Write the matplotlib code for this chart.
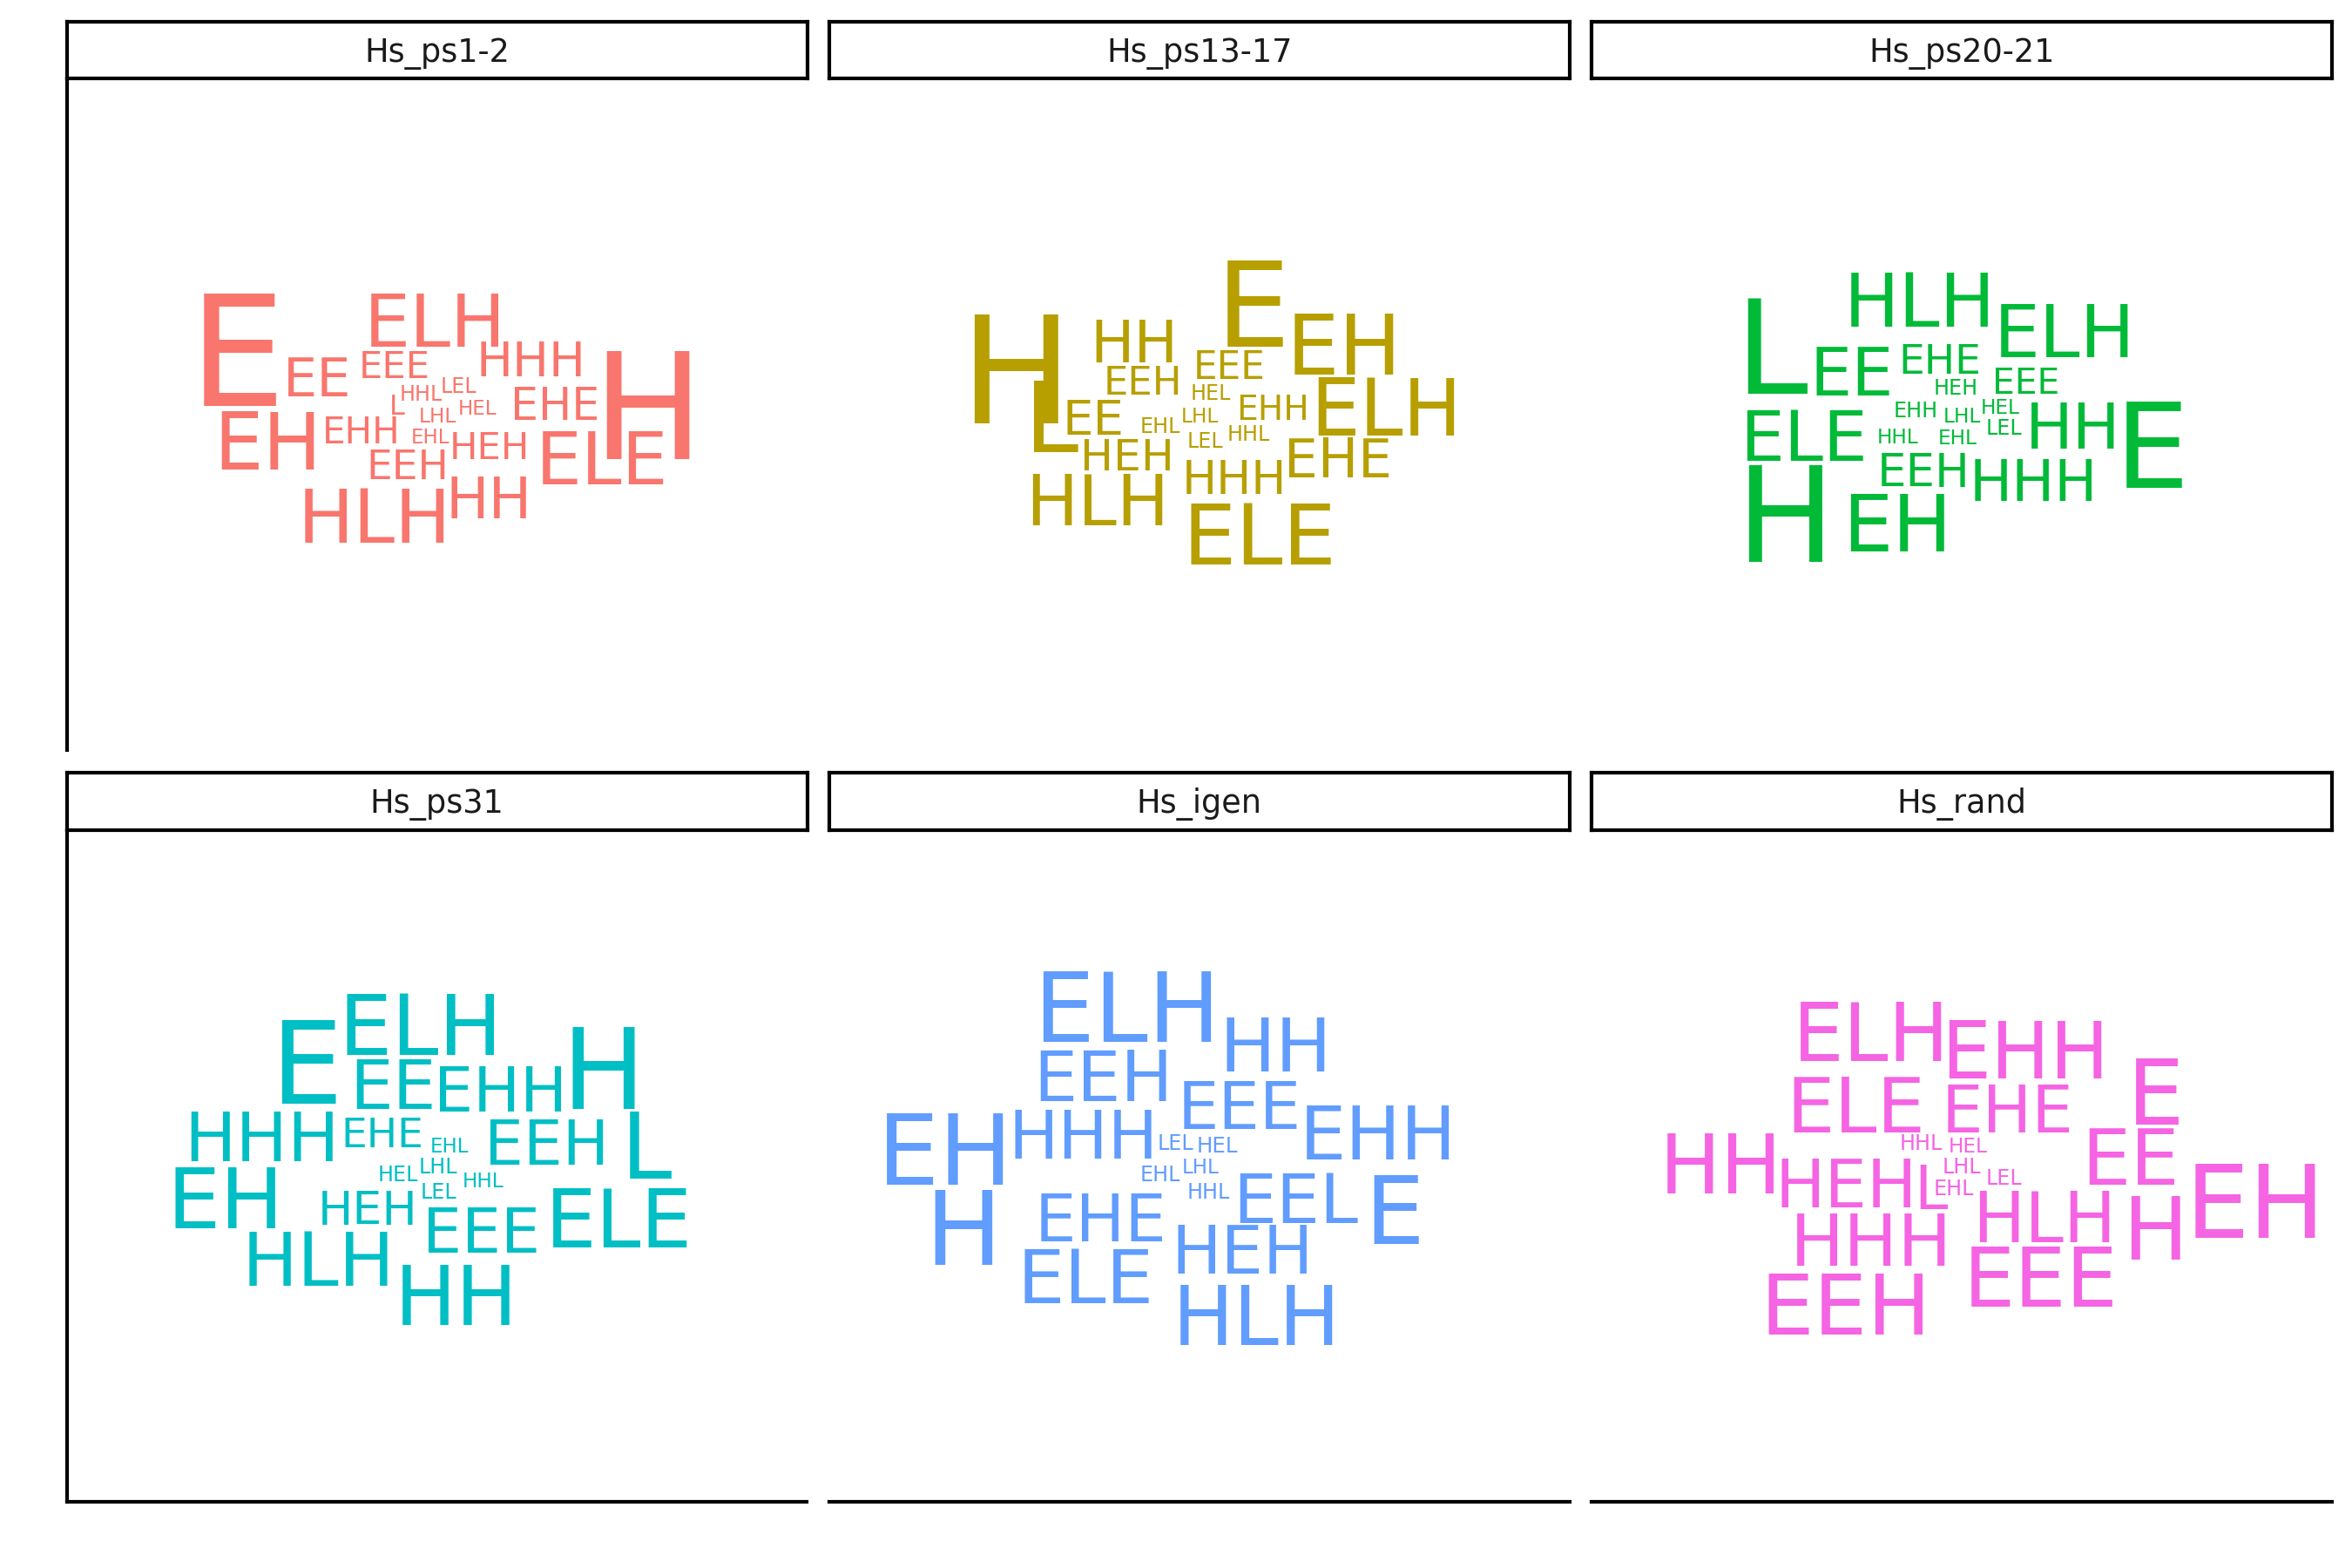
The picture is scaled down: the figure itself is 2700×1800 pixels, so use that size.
import matplotlib
matplotlib.use("Agg")
import matplotlib.pyplot as plt

plt.rcParams['font.family'] = ['DejaVu Sans']

panels = ["Hs_ps1-2", "Hs_ps13-17", "Hs_ps20-21", "Hs_ps31", "Hs_igen", "Hs_rand"]
colours = ["#F8766D", "#B79F00", "#00BA38", "#00BFC4", "#619CFF", "#F564E3"]

# words and their sizes (pt) per panel, plus the cloud layout (x, baseline y)
words_1 = ["E", "ELH", "EE", "EEE", "HHH", "H", "HHL", "LEL", "L", "HEL",
           "LHL", "EHE", "EH", "EHH", "EHL", "HEH", "ELE", "EEH", "HH", "HLH"]
size_1 = [42.2, 20.2, 14.9, 10.4, 13.4, 40.9, 5.7, 5.7, 7.7, 5.5,
          5.6, 12.2, 21.5, 10.1, 5.5, 10.4, 20.1, 11.3, 15.8, 20.6]
x_1 = [-229.7, -2.5, -137, -49, 108.3, 242.1, -18.3, 25.4, -45.5, 47,
       1.3, 135.5, -193.8, -86.6, -7, 60.5, 189.9, -34, 59.3, -71.3]
y_1 = [9.3, 77, 20, 41, 43.7, -51.7, 15.3, 24.3, -0.7, -0.7,
       -10, -6.7, -63.3, -34, -33.3, -51.3, -80.7, -75, -119.7, -147.3]

words_2 = ["H", "L", "HH", "E", "EH", "EEH", "EEE", "HEL", "EE", "EHL",
           "LHL", "EHH", "ELH", "LEL", "HHL", "HEH", "EHE", "HHH", "HLH", "ELE"]
size_2 = [41.4, 26.8, 16.1, 32.4, 23.0, 10.8, 10.5, 5.7, 13.5, 5.7,
          5.6, 9.4, 21.5, 5.7, 5.7, 12.1, 14.8, 12.8, 19.2, 23.3]
x_2 = [-210.3, -169.8, -74.9, 61.5, 166.2, -65.1, 34.4, 13.7, -121.3, -44.8,
       1.2, 84.7, 214.3, 6.9, 56.2, -82.8, 159.1, 40, -116.8, 69.7]
y_2 = [-10.7, -43.3, 59.3, 77.7, 45, 22.7, 40, 16, -24, -21.3,
       -10, -6.3, -24.7, -39, -30.7, -65, -72.3, -91.3, -127.3, -172.3]

words_3 = ["L", "HLH", "ELH", "EE", "EHE", "HEH", "EEE", "ELE", "EHH", "LHL",
           "HEL", "LEL", "HHL", "EHL", "HH", "E", "EEH", "HHH", "H", "EH"]
size_3 = [36.1, 20.3, 20.1, 18.3, 11.3, 5.7, 9.8, 19.4, 5.7, 5.6,
          5.6, 5.7, 5.6, 5.6, 17.5, 32.4, 12.7, 15.7, 36.3, 21.8]
x_3 = [-218.5, -47.9, 118.2, -126.5, -25.5, -6.5, 74, -181, -53, 0.3,
       43.8, 48.8, -73.2, -4.9, 127.5, 218.5, -43.5, 82.3, -202.9, -73.9]
y_3 = [23.7, 100, 65, 21, 46.7, 22, 23.7, -54, -4, -10,
       0.3, -24, -33.3, -35, -39.7, -85, -83.3, -100, -170, -158]

words_4 = ["E", "ELH", "H", "EE", "EHH", "HHH", "EHE", "EHL", "EEH", "L",
           "EH", "HEL", "LHL", "HHL", "LEL", "HEH", "EEE", "ELE", "HLH", "HH"]
size_4 = [31.5, 23.3, 30.7, 18.9, 17.2, 19.0, 11.3, 5.5, 17.0, 25.2,
          23.3, 5.7, 5.7, 5.6, 5.7, 12.9, 17.1, 22.3, 20.5, 22.7]
x_4 = [-149.9, -18.3, 191.1, -50.9, 73.5, -201.1, -62.5, 14.8, 125.9, 240.3,
       -242.6, -44.8, 1.1, 53.2, 1.5, -79.7, 51.1, 209.5, -136.3, 22.1]
y_4 = [71.3, 127.3, 65.7, 65.7, 63, 5.3, 21.3, 15.3, 1.3, -14.7,
       -71, -17, -8.7, -24.7, -37.7, -67, -99.7, -93.7, -137, -182.7]

words_5 = ["ELH", "HH", "EEH", "EEE", "EH", "HHH", "LEL", "HEL", "EHH", "LHL",
           "EHL", "HHL", "EE", "L", "E", "H", "EHE", "HEH", "ELE", "HLH"]
size_5 = [26.6, 20.7, 19.1, 18.0, 27.1, 18.3, 5.7, 5.9, 20.3, 5.5,
          5.7, 5.7, 19.0, 19.0, 26.1, 28.3, 18.1, 18.4, 20.7, 22.5]
x_5 = [-83.4, 88.2, -110, 45.6, -291.5, -133, -27, 20.4, 205.2, 1.2,
       -44.5, 10.5, 89.1, 159.5, 223.7, -270.6, -112.8, 49.6, -130.8, 66.2]
y_5 = [143, 109, 74, 42.3, -22, 9, 18, 15.7, 7.3, -8.7,
       -17.7, -37, -65.3, -65.3, -89.7, -113.7, -86.3, -123, -157.7, -206]

words_6 = ["ELH", "EHH", "E", "ELE", "EHE", "HH", "HHL", "HEL", "EE", "HEH",
           "L", "LHL", "LEL", "EHL", "EH", "HLH", "H", "HHH", "EEE", "EEH"]
size_6 = [22.3, 21.7, 24.9, 21.1, 18.1, 22.5, 5.7, 5.6, 21.4, 18.4,
          16.5, 5.7, 5.7, 5.7, 27.9, 19.2, 24.1, 19.8, 22.5, 23.4]
x_6 = [-103.8, 72.5, 222.5, -121.7, 52.3, -276.5, -46.7, 7.1, 193.3, -133.2,
       -35.5, 0.2, 48, -9.5, 336.8, 94.5, 221.4, -104.1, 90.8, -133.5]
y_6 = [120.3, 100.3, 47.3, 39, 39, -31.3, 19, 15.3, -21, -48,
       -49.7, -8.7, -21, -33.7, -82.7, -87, -107, -114.7, -162, -193.7]

words = [words_1, words_2, words_3, words_4, words_5, words_6]
sizes = [size_1, size_2, size_3, size_4, size_5, size_6]
xs = [x_1, x_2, x_3, x_4, x_5, x_6]
ys = [y_1, y_2, y_3, y_4, y_5, y_6]

W, H = 2700, 1800
fig = plt.figure(figsize=(9, 6), dpi=300)

col_left = [76.5, 951.6, 1827]
pan_w = 850
row_top = [90, 953]
pan_h = 771
strip_top = [25, 887]
lw = 1.0

for i, name in enumerate(panels):
    r, c = divmod(i, 3)
    left = col_left[c] / W
    bottom = 1 - (row_top[r] + pan_h) / H
    ax = fig.add_axes([left, bottom, pan_w / W, pan_h / H])
    ax.set_xlim(-pan_w / 2, pan_w / 2)
    ax.set_ylim(-pan_h / 2, pan_h / 2)
    ax.set_xticks([])
    ax.set_yticks([])
    for s in ax.spines.values():
        s.set_visible(False)
    if c == 0:
        ax.spines['left'].set_visible(True)
        ax.spines['left'].set_linewidth(lw)
    if r == 1:
        ax.spines['bottom'].set_visible(True)
        ax.spines['bottom'].set_linewidth(lw)
    for w, s, x, y in zip(words[i], sizes[i], xs[i], ys[i]):
        ax.text(x, y, w, fontsize=s, color=colours[i], ha='center', va='baseline')

    # facet strip
    sh = row_top[r] - strip_top[r]
    sax = fig.add_axes([left, 1 - row_top[r] / H, pan_w / W, sh / H])
    sax.set_xticks([])
    sax.set_yticks([])
    for s in sax.spines.values():
        s.set_linewidth(lw)
        s.set_color('black')
    sax.text(0.5, 0.5 - 13.3 / sh, name, fontsize=8.8, color='#1A1A1A',
             ha='center', va='baseline', transform=sax.transAxes)

fig.savefig("out.png", dpi=300)
